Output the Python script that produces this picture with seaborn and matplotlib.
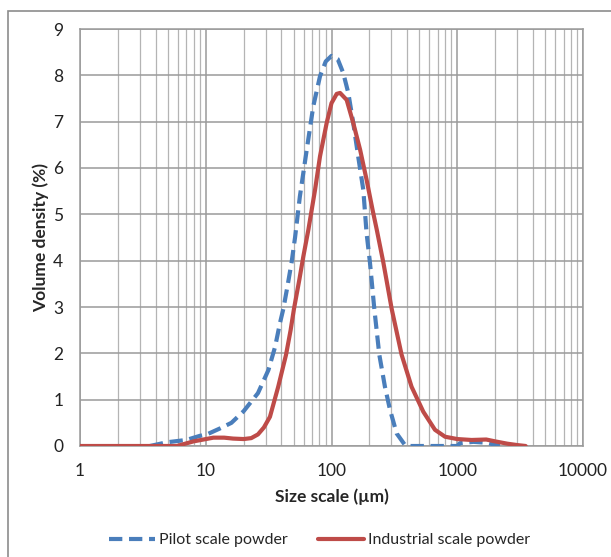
import numpy as np
import pandas as pd
import matplotlib
matplotlib.use('Agg')
import matplotlib.pyplot as plt
import seaborn as sns
from matplotlib.patches import Rectangle
from matplotlib.ticker import LogLocator, FixedLocator, FixedFormatter, NullFormatter

# Pilot scale powder (blue dashed)
pilot_size = [3.6, 4.9, 7, 9, 10.2, 13, 16, 20, 26, 31.5, 35.6, 38.9, 41.4, 44.6, 48.2,
              51.3, 56, 63.5, 71.6, 81, 90, 100, 112, 124, 136, 149, 163, 179, 190,
              202, 219, 240, 266, 292, 330, 384, 420, 1000, 1050, 1340, 1715, 2180]
pilot_vol = [0, 0.08, 0.13, 0.22, 0.25, 0.38, 0.5, 0.75, 1.14, 1.64, 2.14, 2.65, 2.96, 3.44, 3.97,
             4.5, 5.38, 6.39, 7.33, 7.98, 8.3, 8.42, 8.35, 8.05, 7.62, 6.97, 6.25, 5.53, 4.6,
             3.97, 2.96, 1.97, 1.28, 0.78, 0.27, 0.02, 0, 0, 0.06, 0.09, 0.07, 0]

# Industrial scale powder (red solid)
ind_size = [1, 5.9, 8, 11.5, 14, 16.5, 20, 23, 26, 29, 32.4, 37.7, 43.5, 47.3, 50.3, 55.5, 59.7, 65.5,
            74, 81, 91.5, 100, 110, 117, 132, 149, 169, 190, 212, 229, 258, 301, 361, 433,
            537, 665, 800, 1000, 1300, 1700, 2000, 2500, 3000, 3500]
ind_vol = [0, 0, 0.1, 0.18, 0.18, 0.16, 0.15, 0.17, 0.25, 0.4, 0.63, 1.28, 1.97, 2.5, 2.96, 3.59, 4.09, 4.67,
           5.53, 6.25, 6.97, 7.4, 7.6, 7.62, 7.47, 6.97, 6.39, 5.75, 5.1, 4.67, 3.97, 2.96, 1.97, 1.28,
           0.74, 0.35, 0.2, 0.15, 0.13, 0.14, 0.1, 0.05, 0.02, 0]

x_ticks = [1, 10, 100, 1000, 10000]
x_labels = ['1', '10', '100', '1000', '10000']

sns.set_style('white')
plt.rcParams['font.family'] = ['Lato', 'DejaVu Sans']

fig = plt.figure(figsize=(6.11, 5.57), dpi=100)
ax = fig.add_axes([80 / 611, 1 - 446 / 557, (583 - 80) / 611, (446 - 29) / 557])

pilot = pd.DataFrame({'size': pilot_size, 'vol': pilot_vol})
ind = pd.DataFrame({'size': ind_size, 'vol': ind_vol})

sns.lineplot(data=pilot, x='size', y='vol', ax=ax, color='#4A7EBB', linewidth=3,
             linestyle=(0, (3.2, 1.6)), label='Pilot scale powder', zorder=3)
sns.lineplot(data=ind, x='size', y='vol', ax=ax, color='#BE4B48', linewidth=3,
             label='Industrial scale powder', zorder=4)
for ln in ax.lines:
    ln.set_solid_joinstyle('round')
    ln.set_dash_joinstyle('round')

ax.set_xscale('log')
ax.set_xlim(1, 10000)
ax.set_ylim(0, 9)
ax.xaxis.set_major_locator(FixedLocator(x_ticks))
ax.xaxis.set_major_formatter(FixedFormatter(x_labels))
ax.xaxis.set_minor_locator(LogLocator(base=10, subs=np.arange(2, 10)))
ax.xaxis.set_minor_formatter(NullFormatter())
ax.set_yticks(range(0, 10))

ax.grid(which='major', color='#9A9A9A', linewidth=1.1)
ax.grid(which='minor', axis='x', color='#B4B4B4', linewidth=0.9)
ax.set_axisbelow(True)
for s in ax.spines.values():
    s.set_color('#9A9A9A')
    s.set_linewidth(1.1)

ax.tick_params(which='both', length=0, labelsize=12.5, colors='#222222')
ax.tick_params(axis='x', pad=12)
ax.tick_params(axis='y', pad=12)

ax.set_xlabel('Size scale (\u00b5m)', fontsize=12.5, fontweight='bold', labelpad=7)
ax.set_ylabel('Volume density (%)', fontsize=12.5, fontweight='bold', labelpad=3)

ax.legend(loc='center', bbox_to_anchor=(0.523, 1 - 540 / 557), bbox_transform=fig.transFigure,
          ncol=2, frameon=False, fontsize=11.5, handlelength=2.9, handletextpad=0.25,
          columnspacing=1.9)

# outer chart border
fig.patches.append(Rectangle((8 / 611, -0.1), 1.2, 1 - 11 / 557 + 0.1, transform=fig.transFigure,
                             fill=False, edgecolor='#8C8C8C', linewidth=1.2))

fig.savefig('out.png', dpi=100, facecolor='white')
